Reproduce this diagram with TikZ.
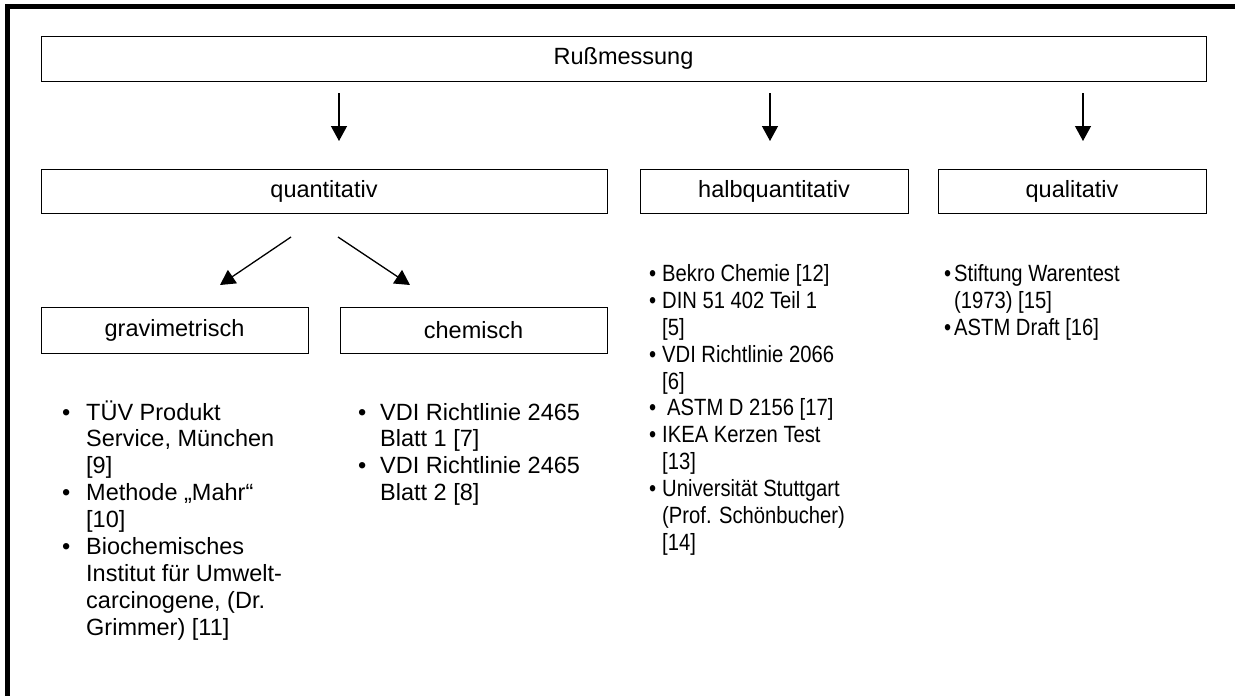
\documentclass[tikz,border=0pt]{standalone}
\usepackage{fontspec}
\setmainfont{Liberation Sans}
\newfontfamily\narrowfont[FakeStretch=0.86]{Liberation Sans}
\usetikzlibrary{arrows.meta}
\tikzstyle{box} = [rectangle, draw=black, line width=0.9pt, inner sep=0pt, text centered, font=\fontsize{23.5}{27}\selectfont]
\tikzstyle{list} = [inner sep=0pt, anchor=base west, font=\fontsize{23.5}{26.9}\selectfont]
\tikzstyle{arrow} = [line width=1.3pt, -{Triangle[width=16pt,length=15pt]}]
\tikzstyle{frame} = [line width=5pt]

\begin{document}
\begin{tikzpicture}[x=1pt, y=-1pt]
			\useasboundingbox (0,0) rectangle (1235,696);
			\draw [frame] (7.5,696) -- (7.5,6.5) -- (1235,6.5);

			\node[box, minimum width=1165pt, minimum height=45pt] (1) at (623.5,58.5) {Rußmessung};
			\node[box, minimum width=566pt, minimum height=44pt] (2) at (324,191) {quantitativ};
			\node[box, minimum width=268pt, minimum height=44pt] (3) at (774,191) {halbquantitativ};
			\node[box, minimum width=268pt, minimum height=44pt] (4) at (1072,191) {qualitativ};
			\node[box, minimum width=267pt, minimum height=46pt] (5) at (174.5,330) {gravimetrisch};
			\node[box, minimum width=267pt, minimum height=46pt] (6) at (473.5,330) {chemisch};

			\node[list] (7) at (62,420) {\begin{tabular}[t]{@{}p{24pt}@{}l@{}}
				\textbullet & TÜV Produkt\\
				& Service, München\\
				& [9]\\
				\textbullet & Methode „Mahr“\\
				& [10]\\
				\textbullet & Biochemisches\\
				& Institut für Umwelt-\\
				& carcinogene, (Dr.\\
				& Grimmer) [11]
			\end{tabular}};
			\node[list] (8) at (358,420) {\begin{tabular}[t]{@{}p{22pt}@{}l@{}}
				\textbullet & VDI Richtlinie 2465\\
				& Blatt 1 [7]\\
				\textbullet & VDI Richtlinie 2465\\
				& Blatt 2 [8]
			\end{tabular}};
			\node[list] (9) at (649,281.4) {\narrowfont\begin{tabular}[t]{@{}p{13pt}@{}l@{}}
				\textbullet & Bekro Chemie [12]\\
				\textbullet & DIN 51 402 Teil 1\\
				& [5]\\
				\textbullet & VDI Richtlinie 2066\\
				& [6]\\
				\textbullet & \hspace{5pt}ASTM D 2156 [17]\\
				\textbullet & IKEA Kerzen Test\\
				& [13]\\
				\textbullet & Universität Stuttgart\\
				& (Prof. Schönbucher)\\
				& [14]
			\end{tabular}};
			\node[list] (10) at (944,281.4) {\narrowfont\begin{tabular}[t]{@{}p{10pt}@{}l@{}}
				\textbullet & Stiftung Warentest\\
				& (1973) [15]\\
				\textbullet & ASTM Draft [16]
			\end{tabular}};

			% arrow ends
			\coordinate (a1) at (339,93);   \coordinate (b1) at (339,141);
			\coordinate (a2) at (770,93);   \coordinate (b2) at (770,141);
			\coordinate (a3) at (1083,93);  \coordinate (b3) at (1083,141);
			\coordinate (a4) at (291,237);  \coordinate (b4) at (220,285);
			\coordinate (a5) at (338,237);  \coordinate (b5) at (410,285);

			\draw [arrow] (a1) -- (b1);
			\draw [arrow] (a2) -- (b2);
			\draw [arrow] (a3) -- (b3);
			\draw [arrow] (a4) -- (b4);
			\draw [arrow] (a5) -- (b5);

		\end{tikzpicture}
\end{document}
